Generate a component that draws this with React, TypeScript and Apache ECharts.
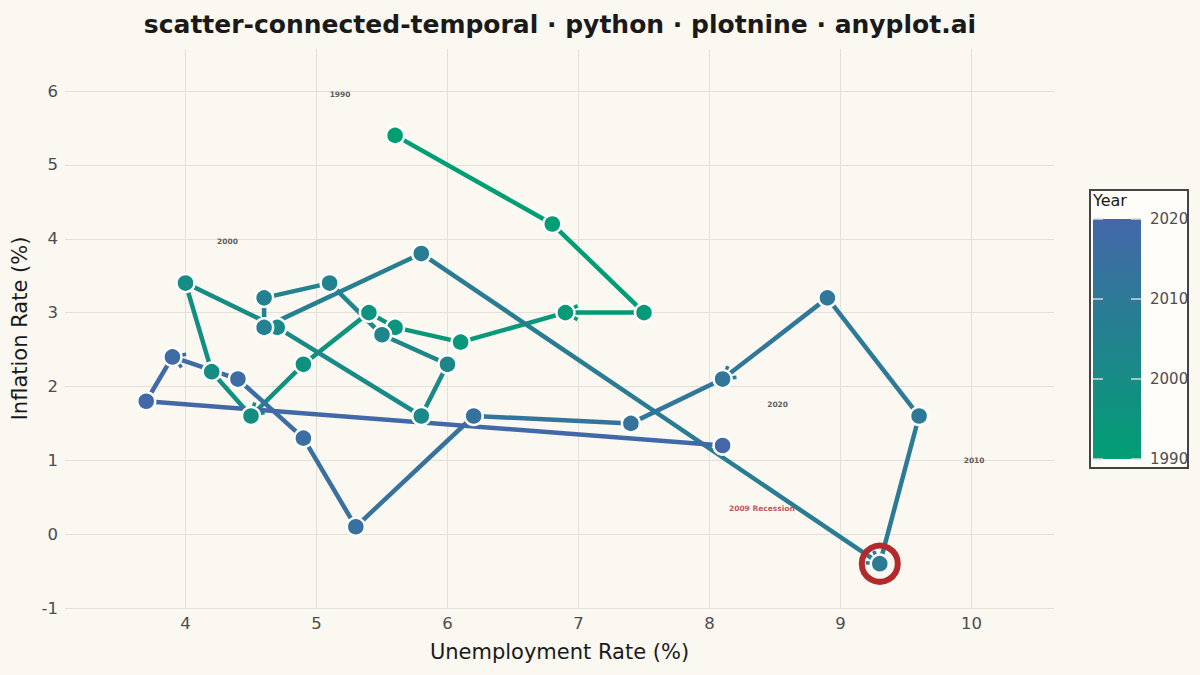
import { useEffect, useRef } from 'react';
import * as echarts from 'echarts';

// US unemployment vs inflation, one point per year
const years = [
  1990, 1991, 1992, 1993, 1994, 1995, 1996, 1997, 1998, 1999,
  2000, 2001, 2002, 2003, 2004, 2005, 2006, 2007, 2008, 2009,
  2010, 2011, 2012, 2013, 2014, 2015, 2016, 2017, 2018, 2019, 2020
];
const unemployment = [
  5.6, 6.8, 7.5, 6.9, 6.1, 5.6, 5.4, 4.9, 4.5, 4.2,
  4.0, 4.7, 5.8, 6.0, 5.5, 5.1, 4.6, 4.6, 5.8, 9.3,
  9.6, 8.9, 8.1, 7.4, 6.2, 5.3, 4.9, 4.4, 3.9, 3.7, 8.1
];
const inflation = [
  5.4, 4.2, 3.0, 3.0, 2.6, 2.8, 3.0, 2.3, 1.6, 2.2,
  3.4, 2.8, 1.6, 2.3, 2.7, 3.4, 3.2, 2.8, 3.8, -0.4,
  1.6, 3.2, 2.1, 1.5, 1.6, 0.1, 1.3, 2.1, 2.4, 1.8, 1.2
];
// segments (by end year) that carry an arrow head
const arrowYears = [1993, 1998, 2009, 2012, 2018];

const decadeLabels = ['1990', '2000', '2010', '2020'];
const decadeX = [5.18, 4.32, 10.02, 8.52];
const decadeY = [5.96, 3.96, 1.0, 1.75];
const highlightYear = 2009;
const highlightLabel = '2009 Recession';
const highlightLabelPos = [8.4, 0.35];

const xTicks = [4, 5, 6, 7, 8, 9, 10];
const yTicks = [-1, 0, 1, 2, 3, 4, 5, 6];
const legendYears = [1990, 2000, 2010, 2020];

const BG = '#FAF8F1';
const GREEN = '#009E73';
const BLUE = '#4467A9';
const RED = '#B22A2E';
const FONT = '"DejaVu Sans", sans-serif';

const yearColor = (y: number) => echarts.color.lerp((y - 1990) / 30, [GREEN, BLUE]) as string;

export default function App() {
  const chartRef = useRef<HTMLDivElement>(null);

  useEffect(() => {
    document.body.style.margin = '0';
    if (!chartRef.current) return;
    const chart = echarts.init(chartRef.current, null, { renderer: 'svg' });

    const segments = years.slice(1).map((yr, i) => [
      unemployment[i], inflation[i], unemployment[i + 1], inflation[i + 1], years[i], yr
    ]);
    const points = years.map((yr, i) => [unemployment[i], inflation[i], yr]);
    const hi = years.indexOf(highlightYear);

    // colour bar geometry
    const barTop = 219;
    const barBottom = 459;
    const yearToBar = (y: number) => barBottom - ((y - 1990) / 30) * (barBottom - barTop);

    const option: echarts.EChartsOption = {
      animation: false,
      backgroundColor: BG,
      title: {
        text: 'scatter-connected-temporal · python · plotnine · anyplot.ai',
        left: 555,
        textAlign: 'center',
        top: 7,
        textStyle: { fontFamily: FONT, fontSize: 25, fontWeight: 'bold', color: '#1a1a1a' }
      },
      grid: { left: 65, right: 146, top: 49, bottom: 67 },
      xAxis: {
        type: 'value',
        min: 3.08,
        max: 10.63,
        name: 'Unemployment Rate (%)',
        nameLocation: 'middle',
        nameGap: 33,
        nameTextStyle: { fontFamily: FONT, fontSize: 21, color: '#1a1a1a' },
        axisLine: { show: false },
        axisTick: { show: false },
        splitLine: { show: false },
        axisLabel: {
          customValues: xTicks,
          margin: 7,
          fontFamily: FONT,
          fontSize: 16.5,
          color: '#4d4d4d'
        }
      },
      yAxis: {
        type: 'value',
        min: -1,
        max: 6.57,
        name: 'Inflation Rate (%)',
        nameLocation: 'middle',
        nameGap: 34,
        nameTextStyle: { fontFamily: FONT, fontSize: 21, color: '#1a1a1a' },
        axisLine: { show: false },
        axisTick: { show: false },
        splitLine: { show: false },
        axisLabel: {
          customValues: yTicks,
          margin: 7,
          fontFamily: FONT,
          fontSize: 16.5,
          color: '#4d4d4d'
        }
      },
      series: [
        {
          type: 'custom',
          z: 2,
          encode: { x: [0, 2], y: [1, 3] },
          data: segments,
          renderItem: (_params: any, api: any) => {
            const p1 = api.coord([api.value(0), api.value(1)]);
            const p2 = api.coord([api.value(2), api.value(3)]);
            const color = yearColor(api.value(4));
            const children: any[] = [{
              type: 'line',
              shape: { x1: p1[0], y1: p1[1], x2: p2[0], y2: p2[1] },
              style: { stroke: color, lineWidth: 4.5 }
            }];
            if (arrowYears.includes(api.value(5))) {
              const a = Math.atan2(p2[1] - p1[1], p2[0] - p1[0]);
              const L = 14;
              const w = Math.PI / 6;
              children.push({
                type: 'polyline',
                shape: {
                  points: [
                    [p2[0] - L * Math.cos(a - w), p2[1] - L * Math.sin(a - w)],
                    [p2[0], p2[1]],
                    [p2[0] - L * Math.cos(a + w), p2[1] - L * Math.sin(a + w)]
                  ]
                },
                style: { stroke: color, lineWidth: 3.5, fill: 'none' }
              });
            }
            return { type: 'group', children };
          }
        },
        {
          type: 'scatter',
          z: 3,
          data: points,
          symbol: 'circle',
          symbolSize: 18,
          itemStyle: {
            color: (p: any) => yearColor(p.value[2]),
            borderColor: '#ffffff',
            borderWidth: 2.5,
            opacity: 1
          },
          markLine: {
            silent: true,
            z: 1,
            symbol: ['none', 'none'],
            label: { show: false },
            lineStyle: { color: '#E3E0D9', width: 1, type: 'solid' },
            data: [
              ...xTicks.map((v) => ({ xAxis: v })),
              ...yTicks.map((v) => ({ yAxis: v }))
            ] as any
          }
        },
        {
          type: 'scatter',
          z: 4,
          silent: true,
          data: [[unemployment[hi], inflation[hi]]],
          symbol: 'circle',
          symbolSize: 36,
          itemStyle: { color: 'rgba(0,0,0,0)', borderColor: RED, borderWidth: 6, opacity: 1 }
        },
        {
          type: 'scatter',
          z: 5,
          silent: true,
          symbolSize: 1,
          itemStyle: { color: 'rgba(0,0,0,0)' },
          label: {
            show: true,
            position: 'inside',
            formatter: '{b}',
            fontFamily: FONT,
            fontSize: 7.5,
            fontWeight: 'bold',
            color: '#333333'
          },
          data: [
            ...decadeLabels.map((t, i) => ({ name: t, value: [decadeX[i], decadeY[i]] })),
            {
              name: highlightLabel,
              value: highlightLabelPos,
              label: { color: RED }
            }
          ]
        }
      ],
      graphic: [
        {
          type: 'rect',
          shape: { x: 1090, y: 190, width: 98, height: 278 },
          style: { fill: '#FFFDF9', stroke: '#444444', lineWidth: 2 }
        },
        {
          type: 'text',
          x: 1093,
          y: 192,
          style: { text: 'Year', font: `16px ${FONT}`, fill: '#1a1a1a' }
        },
        {
          type: 'rect',
          shape: { x: 1093, y: barTop, width: 48, height: barBottom - barTop },
          style: {
            fill: new echarts.graphic.LinearGradient(0, 0, 0, 1, [
              { offset: 0, color: BLUE },
              { offset: 1, color: GREEN }
            ])
          }
        },
        ...legendYears.flatMap((y) => [
          {
            type: 'line',
            shape: { x1: 1093, y1: yearToBar(y), x2: 1103, y2: yearToBar(y) },
            style: { stroke: '#d9d9d9', lineWidth: 1.5 }
          },
          {
            type: 'line',
            shape: { x1: 1131, y1: yearToBar(y), x2: 1141, y2: yearToBar(y) },
            style: { stroke: '#d9d9d9', lineWidth: 1.5 }
          },
          {
            type: 'text',
            x: 1150,
            y: yearToBar(y),
            style: {
              text: String(y),
              font: `15px ${FONT}`,
              fill: '#4d4d4d',
              textVerticalAlign: 'middle'
            }
          }
        ])
      ] as any
    };

    chart.setOption(option);
    return () => chart.dispose();
  }, []);

  return <div ref={chartRef} style={{ width: 1200, height: 675 }} />;
}
